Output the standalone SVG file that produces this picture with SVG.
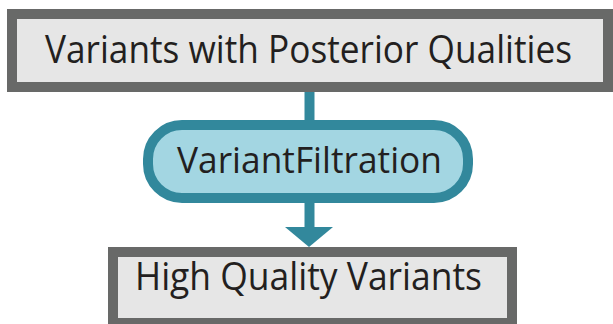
<svg xmlns="http://www.w3.org/2000/svg" width="613" height="324" viewBox="0 0 613 324">
  <style>
    .box { fill: #e6e6e6; stroke: #686968; stroke-width: 10; }
    .proc { fill: #a3d6e2; stroke: #32889c; stroke-width: 10; }
    .lbl { font-family: "Open Sans", "Noto Sans", sans-serif; fill: #231f20; }
    .conn { stroke: #32889c; stroke-width: 10; fill: none; }
    .head { fill: #32889c; }
  </style>
  <rect width="613" height="324" fill="#ffffff"/>
  <g id="connectors">
    <line class="conn" x1="309.5" y1="91" x2="309.5" y2="121"/>
    <line class="conn" x1="309.5" y1="202" x2="309.5" y2="229"/>
    <polygon class="head" points="285,227 333,227 309,247"/>
  </g>
  <g id="node-variants-posterior">
    <rect class="box" x="12" y="14" width="596" height="73"/>
    <text class="lbl" x="45" y="63" font-size="38" textLength="527" lengthAdjust="spacingAndGlyphs">Variants with Posterior Qualities</text>
  </g>
  <g id="node-variantfiltration">
    <rect class="proc" x="148" y="125" width="320" height="73" rx="34" ry="34"/>
    <text class="lbl" x="177" y="173" font-size="37" textLength="265" lengthAdjust="spacingAndGlyphs">VariantFiltration</text>
  </g>
  <g id="node-high-quality">
    <rect class="box" x="113" y="252" width="399" height="71"/>
    <text class="lbl" x="135" y="290" font-size="38" textLength="347" lengthAdjust="spacingAndGlyphs">High Quality Variants</text>
  </g>
</svg>
